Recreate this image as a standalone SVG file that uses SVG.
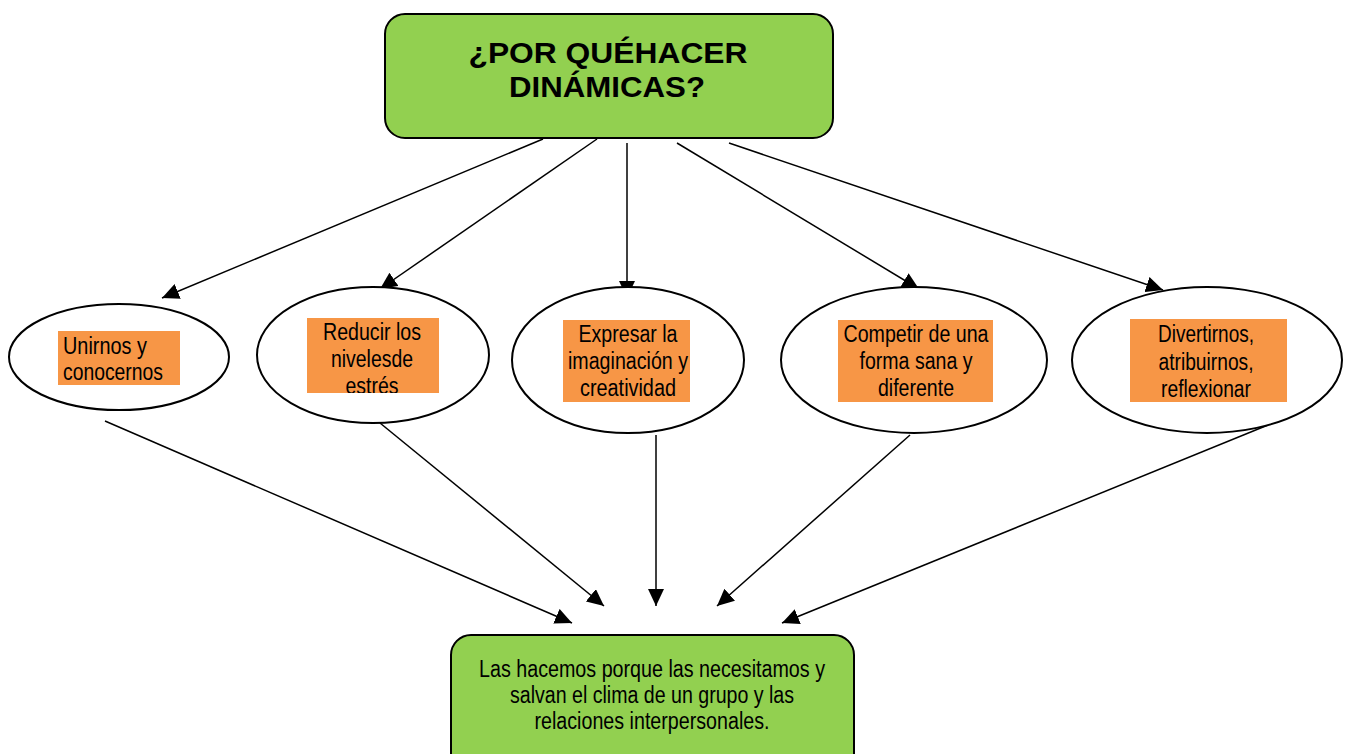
<svg xmlns="http://www.w3.org/2000/svg" width="1349" height="754" viewBox="0 0 1349 754">
<style>
.box{fill:#92D050;stroke:#000;stroke-width:2}
.ell{fill:#fff;stroke:#000;stroke-width:2}
.lab{fill:#F79646}
.t{font-family:"Liberation Sans Narrow","Liberation Sans",Arial,sans-serif;font-size:23px;fill:#000}
.title{font-family:"Liberation Sans",Arial,sans-serif;font-size:29px;font-weight:bold;fill:#000}
.c{stroke:#000;stroke-width:1.5;fill:none;marker-end:url(#ah)}
</style>
<defs>
<marker id="ah" markerUnits="userSpaceOnUse" markerWidth="18" markerHeight="16" refX="17" refY="8" orient="auto">
<path d="M0,0 L17,8 L0,16 Z" fill="#000"/>
</marker>
<clipPath id="clip2"><rect x="307" y="318" width="132" height="75"/></clipPath>
</defs>
<rect width="1349" height="754" fill="#fff"/>
<g id="connectors">
<line class="c" x1="543" y1="139" x2="162" y2="298"/>
<line class="c" x1="597" y1="139" x2="380" y2="289"/>
<line class="c" x1="627" y1="143" x2="627" y2="298"/>
<line class="c" x1="677" y1="143" x2="919" y2="289"/>
<line class="c" x1="729" y1="143" x2="1163" y2="290"/>
<line class="c" x1="105" y1="421" x2="572" y2="623"/>
<line class="c" x1="380" y1="423" x2="604" y2="606"/>
<line class="c" x1="656" y1="435" x2="656" y2="606"/>
<line class="c" x1="910" y1="435" x2="717" y2="606"/>
<line class="c" x1="1268" y1="425" x2="782" y2="623"/>
</g>
<g id="top">
<rect class="box" x="385" y="14" width="448" height="124" rx="20"/>
<text class="title" x="608" y="63" text-anchor="middle" textLength="279" lengthAdjust="spacingAndGlyphs">¿POR QUÉHACER</text>
<text class="title" x="607" y="97" text-anchor="middle" textLength="196" lengthAdjust="spacingAndGlyphs">DINÁMICAS?</text>
</g>
<g id="n1">
<ellipse class="ell" cx="119" cy="357" rx="110" ry="53"/>
<rect class="lab" x="58" y="331" width="122" height="54"/>
<text class="t" x="63" y="354" textLength="84" lengthAdjust="spacingAndGlyphs">Unirnos y</text>
<text class="t" x="63" y="380" textLength="100" lengthAdjust="spacingAndGlyphs">conocernos</text>
</g>
<g id="n2">
<ellipse class="ell" cx="373" cy="355" rx="116" ry="68"/>
<rect class="lab" x="307" y="318" width="132" height="75"/>
<g clip-path="url(#clip2)">
<text class="t" x="372" y="340" text-anchor="middle" textLength="98" lengthAdjust="spacingAndGlyphs">Reducir los</text>
<text class="t" x="372" y="367" text-anchor="middle" textLength="82" lengthAdjust="spacingAndGlyphs">nivelesde</text>
<text class="t" x="372" y="394" text-anchor="middle" textLength="53" lengthAdjust="spacingAndGlyphs">estrés</text>
</g>
</g>
<g id="n3">
<ellipse class="ell" cx="628" cy="360" rx="116" ry="73"/>
<rect class="lab" x="563" y="320" width="127" height="82"/>
<text class="t" x="628" y="342" text-anchor="middle" textLength="99" lengthAdjust="spacingAndGlyphs">Expresar la</text>
<text class="t" x="628" y="369" text-anchor="middle" textLength="120" lengthAdjust="spacingAndGlyphs">imaginación y</text>
<text class="t" x="628" y="396" text-anchor="middle" textLength="96" lengthAdjust="spacingAndGlyphs">creatividad</text>
</g>
<g id="n4">
<ellipse class="ell" cx="914" cy="360" rx="133" ry="73"/>
<rect class="lab" x="838" y="320" width="155" height="82"/>
<text class="t" x="916" y="342" text-anchor="middle" textLength="145" lengthAdjust="spacingAndGlyphs">Competir de una</text>
<text class="t" x="916" y="369" text-anchor="middle" textLength="113" lengthAdjust="spacingAndGlyphs">forma sana y</text>
<text class="t" x="916" y="396" text-anchor="middle" textLength="76" lengthAdjust="spacingAndGlyphs">diferente</text>
</g>
<g id="n5">
<ellipse class="ell" cx="1207" cy="360" rx="135" ry="73"/>
<rect class="lab" x="1130" y="319" width="157" height="83"/>
<text class="t" x="1206" y="342" text-anchor="middle" textLength="96" lengthAdjust="spacingAndGlyphs">Divertirnos,</text>
<text class="t" x="1206" y="370" text-anchor="middle" textLength="95" lengthAdjust="spacingAndGlyphs">atribuirnos,</text>
<text class="t" x="1206" y="397" text-anchor="middle" textLength="90" lengthAdjust="spacingAndGlyphs">reflexionar</text>
</g>
<g id="bottom">
<rect class="box" x="451" y="635" width="403" height="140" rx="20"/>
<text class="t" x="652" y="677" text-anchor="middle" textLength="346" lengthAdjust="spacingAndGlyphs">Las hacemos porque las necesitamos y</text>
<text class="t" x="652" y="703" text-anchor="middle" textLength="284" lengthAdjust="spacingAndGlyphs">salvan el clima de un grupo y las</text>
<text class="t" x="652" y="729" text-anchor="middle" textLength="235" lengthAdjust="spacingAndGlyphs">relaciones interpersonales.</text>
</g>
</svg>
